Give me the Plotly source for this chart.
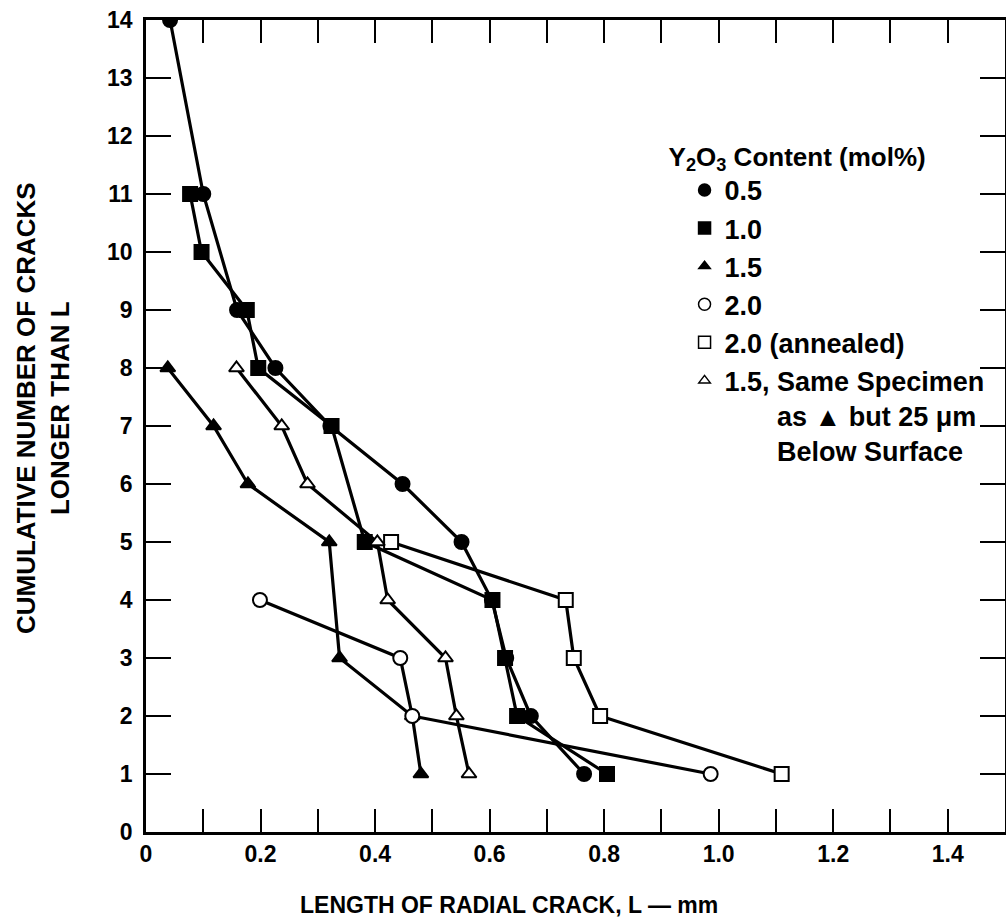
import plotly.graph_objects as go

# ---- data ----
y05 = [14, 11, 9, 8, 7, 6, 5, 4, 3, 2, 1]
x05 = [0.042, 0.100, 0.159, 0.226, 0.322, 0.448, 0.551, 0.604, 0.629, 0.672, 0.765]

y10 = [11, 10, 9, 8, 7, 5, 4, 3, 2, 1]
x10 = [0.077, 0.097, 0.176, 0.196, 0.324, 0.382, 0.605, 0.627, 0.648, 0.805]

y15 = [8, 7, 6, 5, 3, 2, 1]
x15 = [0.038, 0.118, 0.178, 0.320, 0.338, 0.465, 0.480]

y20 = [4, 3, 2, 1]
x20 = [0.199, 0.444, 0.465, 0.986]

y20a = [5, 4, 3, 2, 1]
x20a = [0.428, 0.733, 0.747, 0.793, 1.110]

y15b = [8, 7, 6, 5, 4, 3, 2, 1]
x15b = [0.158, 0.237, 0.282, 0.404, 0.422, 0.523, 0.542, 0.564]

x_tickvals = [0.0, 0.1, 0.2, 0.3, 0.4, 0.5, 0.6, 0.7, 0.8, 0.9, 1.0, 1.1, 1.2, 1.3, 1.4, 1.5]
x_ticktext = ["0", "", "0.2", "", "0.4", "", "0.6", "", "0.8", "", "1.0", "", "1.2", "", "1.4", ""]
y_tickvals = list(range(0, 15))

NB = "&nbsp;"
series = [
    ("0.5", x05, y05, "circle", "black"),
    ("1.0", x10, y10, "square", "black"),
    ("1.5", x15, y15, "triangle-up", "black"),
    ("2.0", x20, y20, "circle", "white"),
    ("2.0 (annealed)", x20a, y20a, "square", "white"),
    ("1.5, Same Specimen<br>" + NB * 7 + "as ▲ but 25 μm<br>" + NB * 7 + "Below Surface",
     x15b, y15b, "triangle-up", "white"),
]

FONT = "Liberation Sans, Arial, sans-serif"
NARROW = "Liberation Sans Narrow, Liberation Sans, Arial, sans-serif"

fig = go.Figure()
for name, xs, ys, sym, fill in series:
    size = 14 if sym != "triangle-up" else 13
    fig.add_trace(go.Scatter(
        x=xs, y=ys, mode="lines+markers", showlegend=False,
        line=dict(color="black", width=3.2),
        marker=dict(symbol=sym, size=size, color=fill, line=dict(color="black", width=2)),
    ))

for name, xs, ys, sym, fill in series:
    size = 12 if sym != "triangle-up" else 10
    fig.add_trace(go.Scatter(
        x=[None], y=[None], mode="markers", name=name, showlegend=True,
        marker=dict(symbol=sym, size=size, color=fill, line=dict(color="black", width=1.5)),
    ))

fig.update_layout(
    width=1008, height=923,
    margin=dict(l=146, r=0, t=20, b=91),
    plot_bgcolor="white", paper_bgcolor="white",
    font=dict(family=FONT, size=23, color="black", weight="bold"),
    legend=dict(
        title=dict(text="Y<sub>2</sub>O<sub>3</sub> Content (mol%)",
                   font=dict(size=26, weight="bold")),
        x=0.606, y=0.862, xanchor="left", yanchor="top",
        bgcolor="rgba(0,0,0,0)", font=dict(size=27, weight="bold"),
        indentation=18, tracegroupgap=0, itemwidth=30, valign="top",
    ),
    xaxis=dict(
        range=[0, 1.5], tickvals=x_tickvals, ticktext=x_ticktext,
        ticks="inside", ticklen=23, tickwidth=2, tickcolor="black",
        showline=True, linecolor="black", linewidth=2.5, mirror="ticks",
        showgrid=False, zeroline=False,
        tickfont=dict(size=23, family=NARROW, weight="bold"),
    ),
    yaxis=dict(
        range=[0, 14], tickvals=y_tickvals,
        ticks="inside", ticklen=25, tickwidth=2, tickcolor="black",
        showline=True, linecolor="black", linewidth=2.5, mirror="ticks",
        showgrid=False, zeroline=False,
        tickfont=dict(size=23, family=NARROW, weight="bold"), ticklabelstandoff=6,
    ),
    annotations=[
        dict(text="LENGTH OF RADIAL CRACK, L — mm", xref="paper", yref="paper",
             x=0.423, y=0, yshift=-73, xanchor="center", yanchor="middle",
             showarrow=False, font=dict(size=23, weight="bold")),
        dict(text="CUMULATIVE NUMBER OF CRACKS<br>LONGER THAN L", xref="paper", yref="paper",
             x=0, xshift=-103, y=0.5, yshift=18, xanchor="center", yanchor="middle",
             textangle=-90, showarrow=False, font=dict(size=26, weight="bold")),
    ],
)

fig.write_html("out.html", config={"displayModeBar": False},
               post_script="document.body.style.margin='0';document.body.style.overflow='hidden';")
